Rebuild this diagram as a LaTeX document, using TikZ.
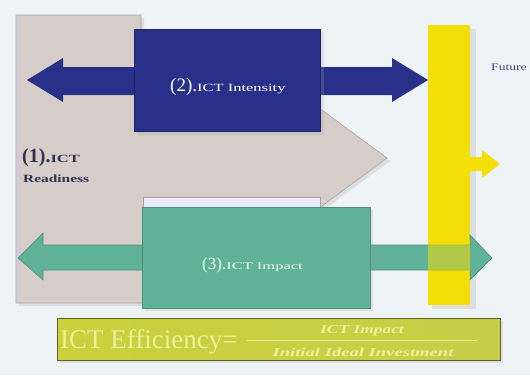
\documentclass[tikz,border=0pt]{standalone}
\usepackage{graphicx}
\usepackage{fontspec}
\setmainfont{Liberation Serif}
\definecolor{bgc}{HTML}{EEF3F6}
\definecolor{greyc}{HTML}{D6CDC8}
\definecolor{greyline}{HTML}{A9A3A8}
\definecolor{bluec}{HTML}{28308A}
\definecolor{greenc}{HTML}{5FB198}
\definecolor{greenline}{HTML}{4E8E78}
\definecolor{yellowc}{HTML}{F4DE08}
\definecolor{txtdark}{HTML}{2E3350}
\definecolor{futc}{HTML}{3A4A80}
\definecolor{fyellow}{HTML}{EEF09A}
\definecolor{barl}{HTML}{C9D13C}
\definecolor{barm}{HTML}{A8AC18}
\definecolor{barr}{HTML}{C6CE48}
\newcommand{\widetxt}[2]{\scalebox{#1}[1]{#2}}
\tikzset{
  lbl/.style={inner sep=0pt, anchor=base west},
  shadowfill/.style={fill=black!35, opacity=0.25},
}
\begin{document}
\begin{tikzpicture}[x=1pt,y=-1pt]
\useasboundingbox (0,0) rectangle (530,375);
\fill[bgc] (0,0) rectangle (530,375);

% grey readiness shape
\fill[shadowfill] (19,18) -- (144,18) -- (144,113) -- (325,113) -- (390,161) -- (325,209) -- (325,306) -- (19,306) -- cycle;
\filldraw[fill=greyc, draw=greyline, line width=0.6pt] (16,15) -- (141,15) -- (141,110) -- (322,110) -- (387,158) -- (322,206) -- (322,303) -- (16,303) -- cycle;
\draw[blue!25, line width=0.8pt] (16.5,15) -- (16.5,303);
\filldraw[fill=white!92!blue, draw=greyline, line width=0.6pt] (143,197) rectangle (320,207);

% yellow bar
\fill[shadowfill] (432,29) rectangle (476,309);
\fill[yellowc] (428,25) rectangle (470,305);
\fill[yellowc] (470,157) -- (482,157) -- (482,150) -- (500,164) -- (482,178) -- (482,171) -- (470,171) -- cycle;

% blue double arrow and box
\fill[bluec] (27,80) -- (63,58) -- (63,67) -- (392,67) -- (392,58) -- (428,80) -- (392,102) -- (392,95) -- (63,95) -- (63,102) -- cycle;
\fill[shadowfill] (137,32) rectangle (324,135);
\node[fill=bluec, draw=bluec!70!black, minimum width=186pt, minimum height=102pt, inner sep=0pt, anchor=north west] (intensity) at (134,29) {};

% green double arrow and box
\filldraw[fill=greenc, draw=greenline, line width=0.6pt] (18,258) -- (43,233) -- (43,245) -- (470,245) -- (470,235) -- (492,258) -- (470,280) -- (470,270) -- (43,270) -- (43,280) -- cycle;
\begin{scope}
  \clip (428,25) rectangle (470,305);
  \fill[yellowc, opacity=0.55] (300,240) rectangle (480,285);
\end{scope}
\fill[shadowfill] (145,210) rectangle (373,311);
\node[fill=greenc, draw=greenline, line width=0.6pt, minimum width=228pt, minimum height=101pt, inner sep=0pt, anchor=north west] (impact) at (142,207) {};

% texts
\node[lbl, text=txtdark] (r1) at (22,162) {\fontsize{20}{20}\selectfont\bfseries (1).\widetxt{1.5}{\fontsize{11}{12}\selectfont ICT}};
\node[lbl, text=txtdark] (r2) at (23,182) {\widetxt{1.4}{\fontsize{11}{12}\selectfont\bfseries Readiness}};
\node[lbl, text=white] (t2) at (170,91) {\fontsize{19}{19}\selectfont (2).\widetxt{1.5}{\fontsize{11}{12}\selectfont ICT Intensity}};
\node[lbl, text=green!8!white] (t3) at (202,269) {\fontsize{17}{17}\selectfont (3).\widetxt{1.65}{\fontsize{10}{11}\selectfont ICT Impact}};
\node[lbl, text=futc] (fut) at (491,70) {\widetxt{1.36}{\fontsize{10}{11}\selectfont Future}};

% formula bar
\fill[shadowfill] (60,321) rectangle (503,363);
\shade[left color=barl, middle color=barm, right color=barr] (57,318) rectangle (500,360);
\draw[olive!60!black, line width=0.5pt] (57,318) rectangle (500,360);
\node[lbl, text=fyellow] (eff) at (60,348) {\fontsize{27}{27}\selectfont ICT Efficiency=};
\node[text=fyellow, inner sep=0pt] (num) at (362,331) {\widetxt{1.45}{\fontsize{12}{13}\selectfont\itshape\bfseries ICT Impact}};
\node[text=fyellow, inner sep=0pt] (den) at (363,352) {\widetxt{1.55}{\fontsize{12}{13}\selectfont\itshape\bfseries Initial Ideal Investment}};
\draw[fyellow, line width=0.7pt] (247,340) -- (477,340);
\end{tikzpicture}
\end{document}
